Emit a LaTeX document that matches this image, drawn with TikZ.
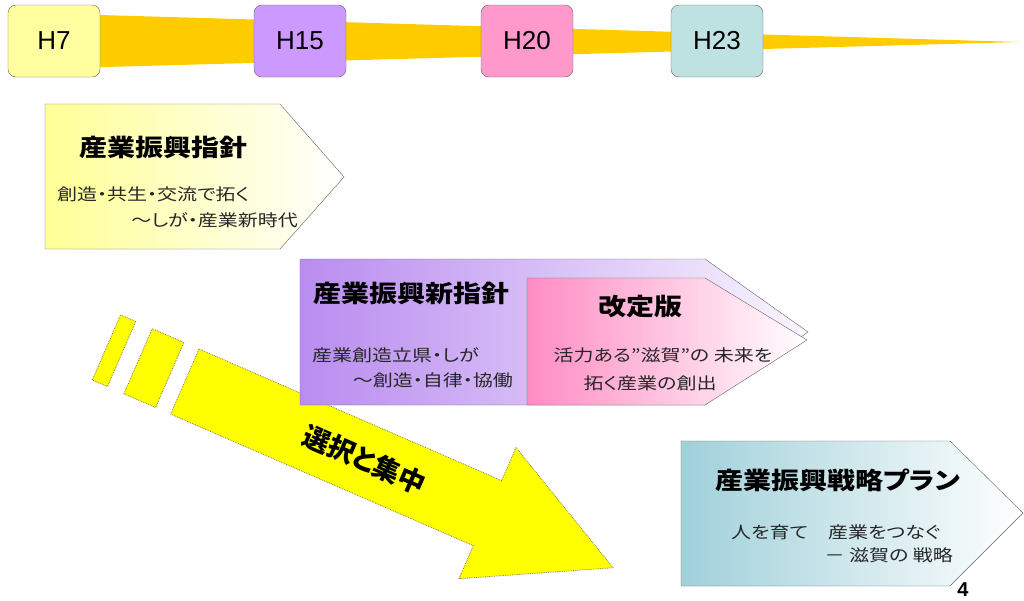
\documentclass[tikz,border=0pt]{standalone}
\usepackage{fontspec}
\setmainfont{Liberation Sans}
\newfontfamily\jp[RawFeature=+palt]{Noto Sans CJK JP}

\definecolor{bandyel}{RGB}{255,204,0}
\definecolor{h7col}{RGB}{255,255,160}
\definecolor{h15col}{RGB}{204,153,255}
\definecolor{h20col}{RGB}{255,153,204}
\definecolor{h23col}{RGB}{190,226,226}
\definecolor{pyel}{RGB}{255,255,150}
\definecolor{ppur}{RGB}{185,140,240}
\definecolor{ppink}{RGB}{255,140,195}
\definecolor{pteal}{RGB}{160,208,218}
\definecolor{arrowyel}{RGB}{255,255,0}
\definecolor{edge}{RGB}{100,100,100}

\begin{document}
\begin{tikzpicture}[x=1pt,y=-1pt,
                    year/.style={draw=edge,rounded corners=8pt,minimum width=92pt,minimum height=72pt,inner sep=0pt,font=\fontsize{26}{28}\selectfont},
                    plan/.style={draw=edge,right color=white},
                    ttl/.style={font=\jp\bfseries\fontsize{28}{30}\selectfont,inner sep=0pt,yscale=.85,transform shape},
                    sub/.style={font=\jp\fontsize{20}{22}\selectfont,text=black!85,inner sep=0pt,yscale=.82,transform shape},
                    bigarrow/.style={fill=arrowyel,draw=black!55!yellow,densely dotted,line width=.8pt}]
                    \useasboundingbox (0,0) rectangle (1024,600);

                    % time line
                    \fill[bandyel] (50,13.5) -- (1020,42) -- (50,68.5) -- cycle;
                    \node[year,fill=h7col] (h7) at (54,41) {H7};
                    \node[year,fill=h15col] (h15) at (300,41) {H15};
                    \node[year,fill=h20col] (h20) at (527,41) {H20};
                    \node[year,fill=h23col] (h23) at (717,41) {H23};

                    % selection and concentration
                    \begin{scope}[shift={(199,349)},rotate=-23.5]
                        \draw[bigarrow] (-85.5,0) rectangle (-69,71);
                        \draw[bigarrow] (-51,0) rectangle (-16.5,71);
                        \draw[bigarrow] (0,0) -- (330,0) -- (330,-36) -- (467,35.5) -- (330,107) -- (330,71) -- (0,71) -- cycle;
                        \node[font=\jp\bfseries\fontsize{27}{29}\selectfont,inner sep=0pt,transform shape] (sentaku) at (196,35.5) {選択と集中};
                    \end{scope}

                    % H7
                    \path[plan,left color=pyel] (45,104) -- (280,104) -- (344,177) -- (280,249) -- (45,249) -- cycle;
                    \node[ttl] (shishin) at (163,147) {産業振興指針};
                    \node[sub,anchor=west] (shishinA) at (57,194) {創造・共生・交流で拓く};
                    \node[sub,anchor=east] (shishinB) at (298,220) {～しが・産業新時代};

                    % H15
                    \path[plan,left color=ppur,right color=ppur!8!white] (300,259) -- (705,259) -- (808,332) -- (705,405) -- (300,405) -- cycle;
                    \node[ttl] (shinshishin) at (411,293) {産業振興新指針};
                    \node[sub,anchor=west] (shinA) at (312,355) {産業創造立県・しが};
                    \node[sub,anchor=east] (shinB) at (513,380) {～創造・自律・協働};

                    % H20
                    \path[plan,left color=ppink] (527,278) -- (705,278) -- (807,340) -- (705,405) -- (527,405) -- cycle;
                    \node[ttl] (kaitei) at (640,307) {改定版};
                    \node[sub] (kaiteiA) at (663,355) {活力ある”滋賀”の 未来を};
                    \node[sub] (kaiteiB) at (650,383) {拓く産業の創出};

                    % H23
                    \path[plan,left color=pteal] (681,441) -- (950,441) -- (1023,513) -- (950,586) -- (681,586) -- cycle;
                    \node[ttl] (senryaku) at (838,480) {産業振興戦略プラン};
                    \node[sub,anchor=west] (senryakuA) at (731,532) {人を育て　産業をつなぐ};
                    \node[sub,anchor=east] (senryakuB) at (953,555) {－ 滋賀の 戦略};

                    \node[font=\bfseries\fontsize{20}{22}\selectfont,inner sep=0pt] (pagenum) at (963,590) {4};
                \end{tikzpicture}
\end{document}
